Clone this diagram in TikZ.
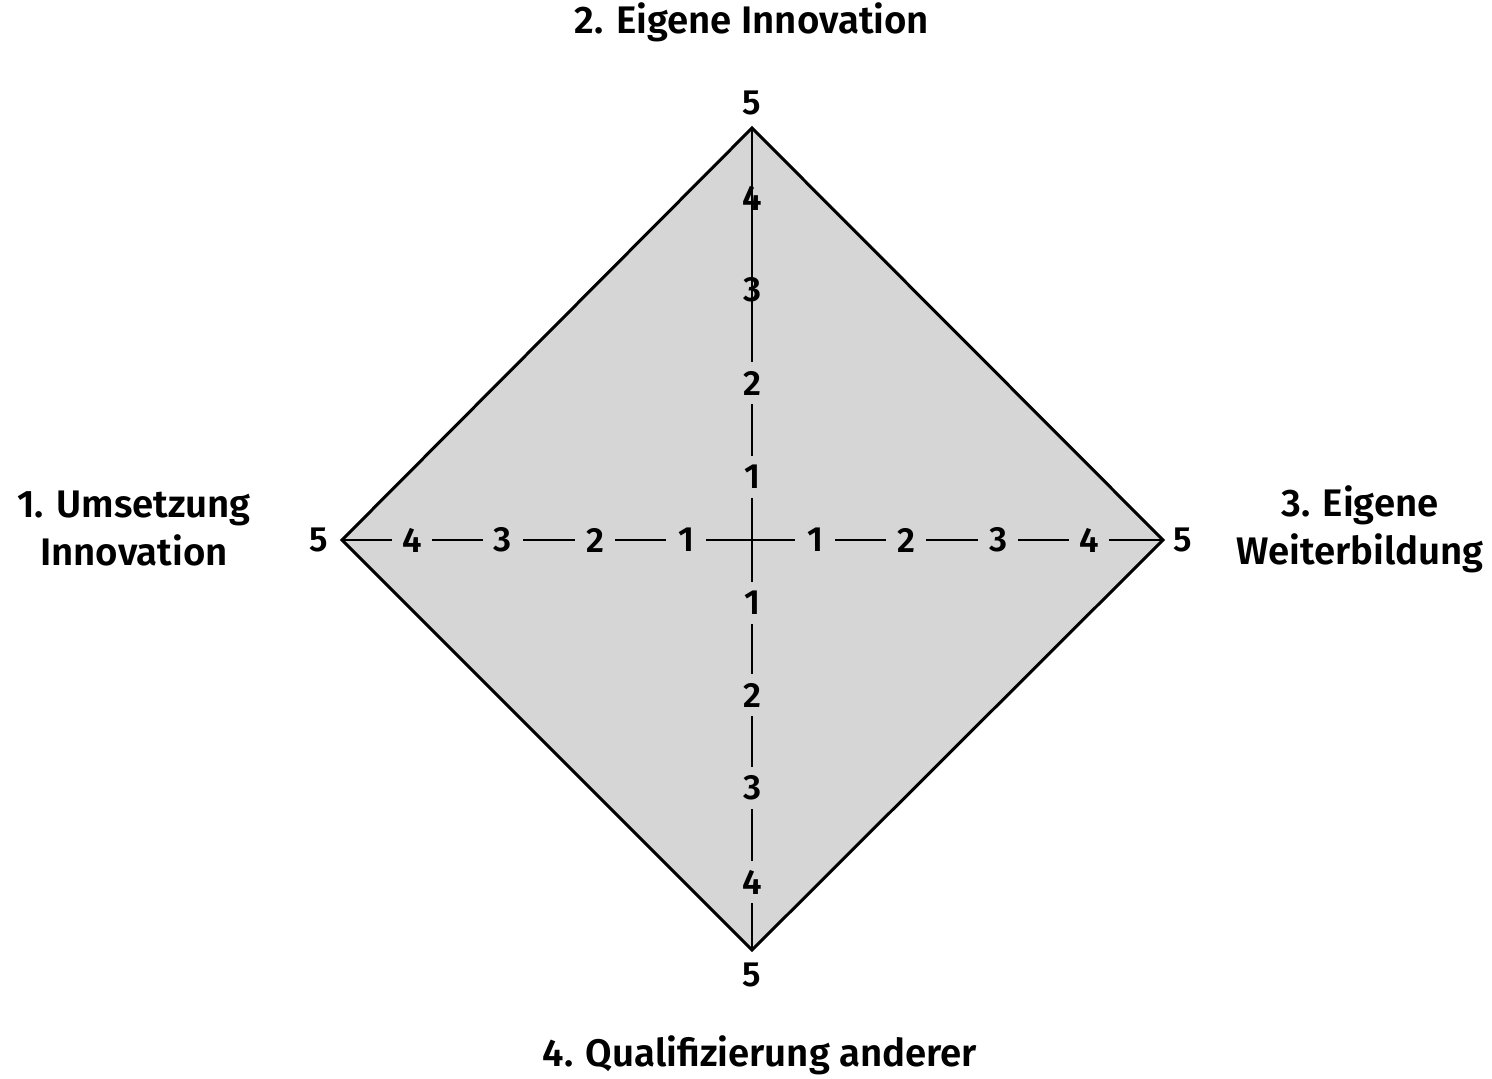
\documentclass[tikz,border=0pt]{standalone}
\usepackage{fontspec}
\setmainfont{Fira Sans}[BoldFont={Fira Sans SemiBold}]
\begin{document}
\begin{tikzpicture}[x=0.5pt,y=-0.5pt,
  frame/.style={draw=black,line width=1.5pt,fill=dgray,line join=miter},
  axis/.style={draw=black,line width=1.3pt},
  tick/.style={font=\fontsize{17.5}{18}\selectfont\bfseries,inner sep=0pt,outer sep=0pt},
  hbg/.style={tick,fill=dgray,minimum width=20pt,minimum height=14pt},
  vbg/.style={tick,fill=dgray,minimum width=14pt,minimum height=21pt},
  title/.style={font=\fontsize{19.2}{24}\selectfont\bfseries,align=center,inner sep=0pt}]
\definecolor{dgray}{HTML}{D6D6D6}
\useasboundingbox (0,0) rectangle (1492,1078);
\coordinate (T) at (752,128);
\coordinate (R) at (1163,540);
\coordinate (B) at (752,950);
\coordinate (L) at (342,540);
\coordinate (C) at (752,540);
\path[frame] (T) -- (R) -- (B) -- (L) -- cycle;
\draw[axis] (L) -- (R);
\draw[axis] (T) -- (B);
% horizontal ticks
\node[hbg] (hl1) at (686,540) {1};
\node[hbg] (hl2) at (595,540) {2};
\node[hbg] (hl3) at (503,540) {3};
\node[hbg] (hl4) at (412,540) {4};
\node[hbg] (hr1) at (815,540) {1};
\node[hbg] (hr2) at (906,540) {2};
\node[hbg] (hr3) at (998,540) {3};
\node[hbg] (hr4) at (1089,540) {4};
\node[tick] (hl5) at (319,540) {5};
\node[tick] (hr5) at (1183,540) {5};
% vertical ticks
\node[tick] (vt5) at (752,103) {5};
\node[tick] (vt4) at (752,198) {4};
\node[tick] (vt3) at (752,290) {3};
\node[vbg] (vt2) at (752,383) {2};
\node[vbg] (vt1) at (752,477) {1};
\node[vbg] (vb1) at (752,603) {1};
\node[vbg] (vb2) at (752,695) {2};
\node[vbg] (vb3) at (752,788) {3};
\node[vbg] (vb4) at (752,882) {4};
\node[tick] (vb5) at (752,975) {5};
% titles
\node[title] (t2) at (752,22) {2. Eigene Innovation};
\node[title] (t1) at (134,529) {1. Umsetzung\\Innovation};
\node[title] (t3) at (1360,529) {3. Eigene\\Weiterbildung};
\node[title] (t4) at (760,1055) {4. Qualifizierung anderer};
\end{tikzpicture}
\end{document}
